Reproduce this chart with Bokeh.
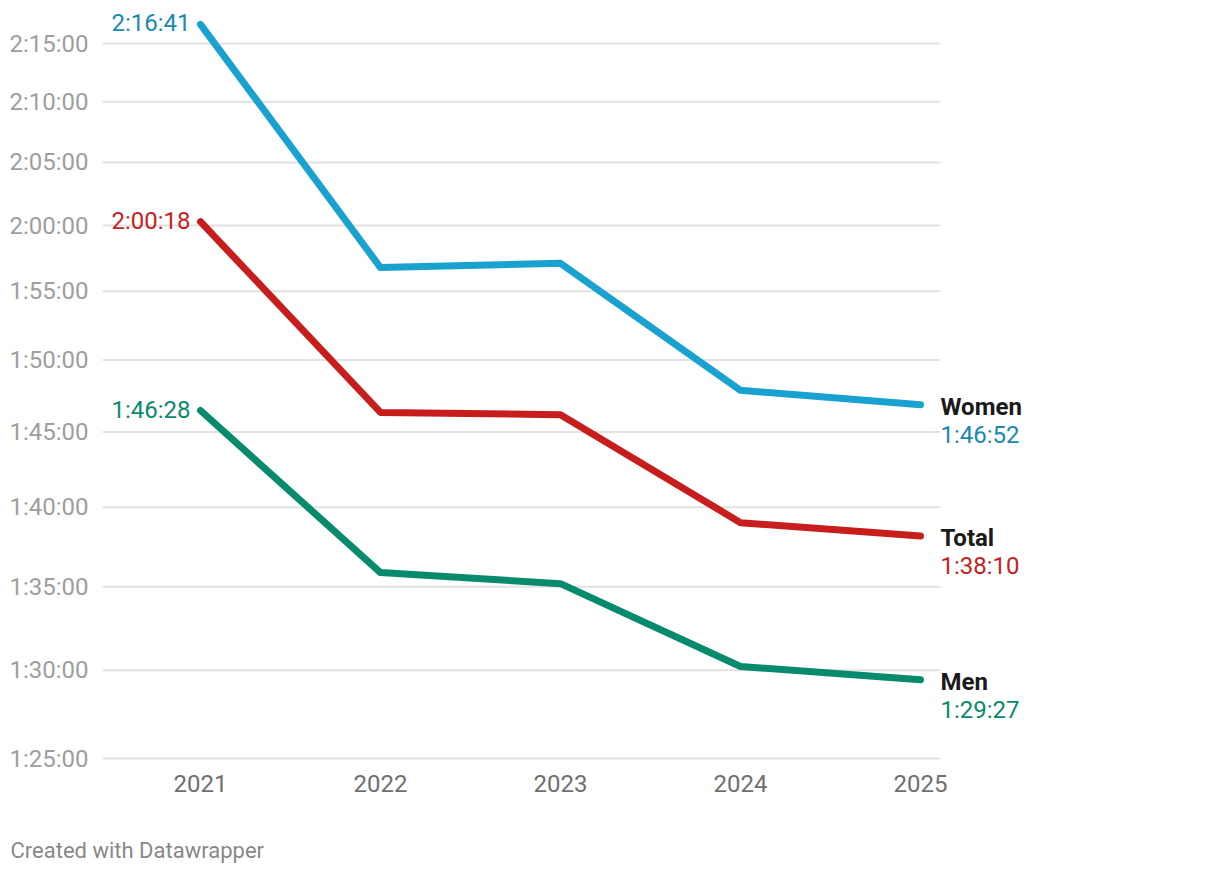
from bokeh.plotting import figure
from bokeh.models import (ColumnDataSource, LabelSet, FixedTicker,
                          CustomJSTickFormatter, Range1d, Title)
from bokeh.core.properties import value
from bokeh.embed import file_html
from bokeh.resources import INLINE

# ---- data (seconds) ----
years = [2021, 2022, 2023, 2024, 2025]
women = [8201, 7007, 7026, 6472, 6412]
total = [7218, 6380, 6371, 5941, 5890]
men = [6388, 5752, 5711, 5413, 5367]
series_names = ["Women", "Total", "Men"]
y_ticks = [5100, 5400, 5700, 6000, 6300, 6600, 6900, 7200, 7500, 7800, 8100]

line_colors = ["#19a2cf", "#c71e1d", "#088b6d"]
label_colors = ["#1a89b2", "#c71e1d", "#0a8a6c"]
series_values = [women, total, men]

FONT = "Roboto"
X_START, X_END = 2020.4556, 2026.0
GRID_END = 2025.1111


def fmt(s):
    s = int(round(s))
    return "%d:%02d:%02d" % (s // 3600, (s % 3600) // 60, s % 60)


p = figure(width=1208, height=866, output_backend="svg", toolbar_location=None,
           y_axis_type="log",
           x_range=Range1d(X_START, X_END),
           y_range=Range1d(5077.2, 8274.8),
           min_border_left=102, min_border_right=108,
           min_border_top=10, min_border_bottom=101)
p.outline_line_color = None
p.background_fill_color = "white"
p.border_fill_color = "white"

# horizontal grid lines (limited in extent, like the original)
p.segment(x0=[X_START] * len(y_ticks), x1=[GRID_END] * len(y_ticks),
          y0=y_ticks, y1=y_ticks, line_color="#e2e2e2", line_width=2)

for vals, c in zip(series_values, line_colors):
    p.line(years, vals, line_color=c, line_width=7,
           line_cap="round", line_join="round")

# axes
p.yaxis.ticker = FixedTicker(ticks=y_ticks)
p.yaxis.formatter = CustomJSTickFormatter(code="""
const s = Math.round(tick);
const h = Math.floor(s / 3600);
const m = Math.floor((s % 3600) / 60);
const sec = s % 60;
return h + ":" + String(m).padStart(2, "0") + ":" + String(sec).padStart(2, "0");
""")
p.yaxis.axis_line_color = None
p.yaxis.major_tick_line_color = None
p.yaxis.minor_tick_line_color = None
p.yaxis.major_label_text_font = FONT
p.yaxis.major_label_text_font_size = "24px"
p.yaxis.major_label_text_color = "#9e9e9e"
p.yaxis.major_label_standoff = 8

p.xaxis.ticker = FixedTicker(ticks=years)
p.xaxis.axis_line_color = None
p.xaxis.major_tick_line_color = None
p.xaxis.minor_tick_line_color = None
p.xaxis.major_label_text_font = FONT
p.xaxis.major_label_text_font_size = "24px"
p.xaxis.major_label_text_color = "#6f6f6f"
p.xaxis.major_label_standoff = 3

p.xgrid.visible = False
p.ygrid.visible = False

# left start labels
left_src = ColumnDataSource(dict(
    x=[years[0]] * 3,
    y=[v[0] for v in series_values],
    text=[fmt(v[0]) for v in series_values],
    color=label_colors,
))
p.add_layout(LabelSet(x="x", y="y", text="text", source=left_src,
                      x_offset=-10, y_offset=1, text_align="right",
                      text_baseline="middle", text_color="color",
                      text_font=value(FONT), text_font_size=value("24px")))

# right end labels
end_src = ColumnDataSource(dict(
    x=[years[-1]] * 3,
    y=[v[-1] for v in series_values],
    name=series_names,
    text=[fmt(v[-1]) for v in series_values],
    color=label_colors,
))
p.add_layout(LabelSet(x="x", y="y", text="name", source=end_src,
                      x_offset=20, y_offset=-2, text_align="left",
                      text_baseline="middle", text_color="#1a1a1a",
                      text_font=value(FONT), text_font_style="bold",
                      text_font_size=value("24px")))
p.add_layout(LabelSet(x="x", y="y", text="text", source=end_src,
                      x_offset=20, y_offset=-30, text_align="left",
                      text_baseline="middle", text_color="color",
                      text_font=value(FONT), text_font_size=value("24px")))

# spacer + footer
p.add_layout(Title(text=" ", standoff=38, text_font_size="1px",
                   text_color="white"), "below")
p.add_layout(Title(text="Created with Datawrapper", align="left",
                   offset=-92, standoff=0, text_font=FONT,
                   text_font_style="normal", text_font_size="22px",
                   text_color="#888888"), "below")

open("out.html", "w").write(file_html(p, INLINE))
